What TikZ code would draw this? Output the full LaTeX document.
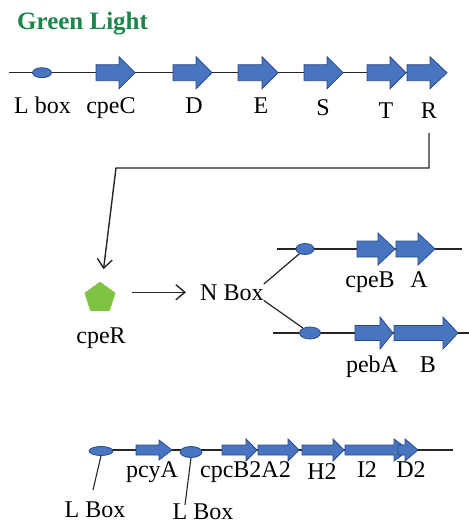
\documentclass[tikz,border=0pt]{standalone}
\usepackage{fontspec}
\setmainfont{Liberation Serif}
\newfontfamily\labfont{Liberation Serif}
\usetikzlibrary{shapes.geometric,arrows.meta}
\definecolor{geneblue}{RGB}{73,117,192}
\definecolor{geneedge}{RGB}{40,74,135}
\definecolor{titlegreen}{RGB}{28,134,74}
\definecolor{regulatorgreen}{RGB}{126,196,66}

% gene arrow: x start, x where the head begins, x tip, y axis, half shaft, half head
\newcommand{\genearrow}[6]{%
  \path[genebody] (#1,#4-#5) -- (#2,#4-#5) -- (#2,#4-#6) -- (#3,#4)
    -- (#2,#4+#6) -- (#2,#4+#5) -- (#1,#4+#5) -- cycle;}

\begin{document}
\begin{tikzpicture}[x=1pt,y=-1pt,
  backbone/.style={line width=1.3pt, draw=black!85},
  genebody/.style={fill=geneblue, draw=geneedge, line width=0.8pt, line join=miter},
  promoter/.style={ellipse, fill=geneblue, draw=geneedge, line width=0.8pt, inner sep=0pt},
  genelabel/.style={font=\labfont\fontsize{24}{28}\selectfont, inner sep=0pt, anchor=base},
  conn/.style={line width=1.4pt, draw=black!85},
  barb/.style={-{Straight Barb[length=9pt,width=15pt]}}
]
\useasboundingbox (0,0) rectangle (469,523);

% title
\node[font=\bfseries\fontsize{25}{29}\selectfont, text=titlegreen, inner sep=0pt,
      anchor=base west] (title) at (17,29) {Green Light};

% ---- cpe operon ----
\draw[backbone] (9,72.7) -- (447,72.7);
\node[promoter, minimum width=19, minimum height=10] (p1) at (42,72.7) {};
\genearrow{96}{119}{135}{72.7}{8}{16}
\genearrow{173}{196}{212}{72.7}{8}{16}
\genearrow{238}{262}{278}{72.7}{8}{16}
\genearrow{304}{327}{343}{72.7}{8}{16}
\genearrow{367}{390}{406}{72.7}{8}{16}
\genearrow{407}{430}{447}{72.7}{8}{16}

\node[genelabel] (lLbox) at (42.5,113) {L box};
\node[genelabel] (lcpeC) at (111,113) {cpeC};
\node[genelabel] (lD) at (194,113) {D};
\node[genelabel] (lE) at (261,113) {E};
\node[genelabel] (lS) at (323,115) {S};
\node[genelabel] (lT) at (386,118) {T};
\node[genelabel] (lR) at (429,118) {R};

% ---- regulator ----
\node[regular polygon, regular polygon sides=5, minimum size=32, inner sep=0pt,
      fill=regulatorgreen, draw=regulatorgreen] (pent) at (100,298) {};
\node[genelabel] (lcpeR) at (101,343) {cpeR};
\node[genelabel, anchor=base west] (nbox) at (200,300) {N Box};

\coordinate (bend) at (116,168);
\draw[conn, barb, shorten <=15pt, shorten >=14pt] (lR.south) |- (bend) -- (pent);
\draw[conn, barb, shorten <=18pt, shorten >=14pt] (pent.east |- nbox.center) -- (nbox.west);

% ---- cpeBA operon ----
\draw[backbone] (277,249) -- (462,249);
\node[promoter, minimum width=18, minimum height=11] (pu) at (305,249) {};
\genearrow{357}{378}{395}{249}{8}{16}
\genearrow{396}{418}{435}{249}{8}{16}
\node[genelabel] (lcpeB) at (370,287) {cpeB};
\node[genelabel] (lA) at (419,287) {A};

% ---- pebAB operon ----
\draw[backbone] (273,333) -- (469,333);
\node[promoter, minimum width=21, minimum height=12] (pl) at (310,333) {};
\genearrow{355}{380}{393}{333}{7.5}{16}
\genearrow{394}{443}{458}{333}{7.5}{16}
\node[genelabel] (lpebA) at (372,372) {pebA};
\node[genelabel] (lB) at (428,372) {B};

\draw[conn, line width=1.2pt] (nbox.north east) -- (pu);
\draw[conn, line width=1.2pt] (nbox.south east) -- (pl);

% ---- pcyA / cpc2 operon ----
\draw[backbone, line width=1.1pt] (90,450) -- (453,450);
\node[promoter, minimum width=24, minimum height=9] (e1) at (101,451) {};
\node[promoter, minimum width=22, minimum height=11] (e2) at (191,452) {};
\genearrow{136}{159}{172}{450}{5}{10}
\genearrow{222}{246}{257}{450}{5}{11}
\genearrow{258}{288}{299}{450}{5}{11}
\genearrow{302}{333}{344}{450}{5}{11}
\genearrow{345}{394}{409}{450}{5}{11}
\genearrow{398}{405}{418}{450}{5}{11}

\node[genelabel] (lpcyA) at (152,477) {pcyA};
\node[genelabel] (lcpc) at (245.5,477) {cpcB2A2};
\node[genelabel] (lH2) at (322,479) {H2};
\node[genelabel] (lI2) at (367,477) {I2};
\node[genelabel] (lD2) at (411,477) {D2};
\node[genelabel] (lLB1) at (95,517) {L Box};
\node[genelabel] (lLB2) at (203,519) {L Box};

\coordinate (lead1) at (93,490);
\coordinate (lead2) at (185,505);
\draw[conn, line width=1.1pt] (e1.south) -- (lead1);
\draw[conn, line width=1.1pt] (e2.south) -- (lead2);
\end{tikzpicture}
\end{document}
